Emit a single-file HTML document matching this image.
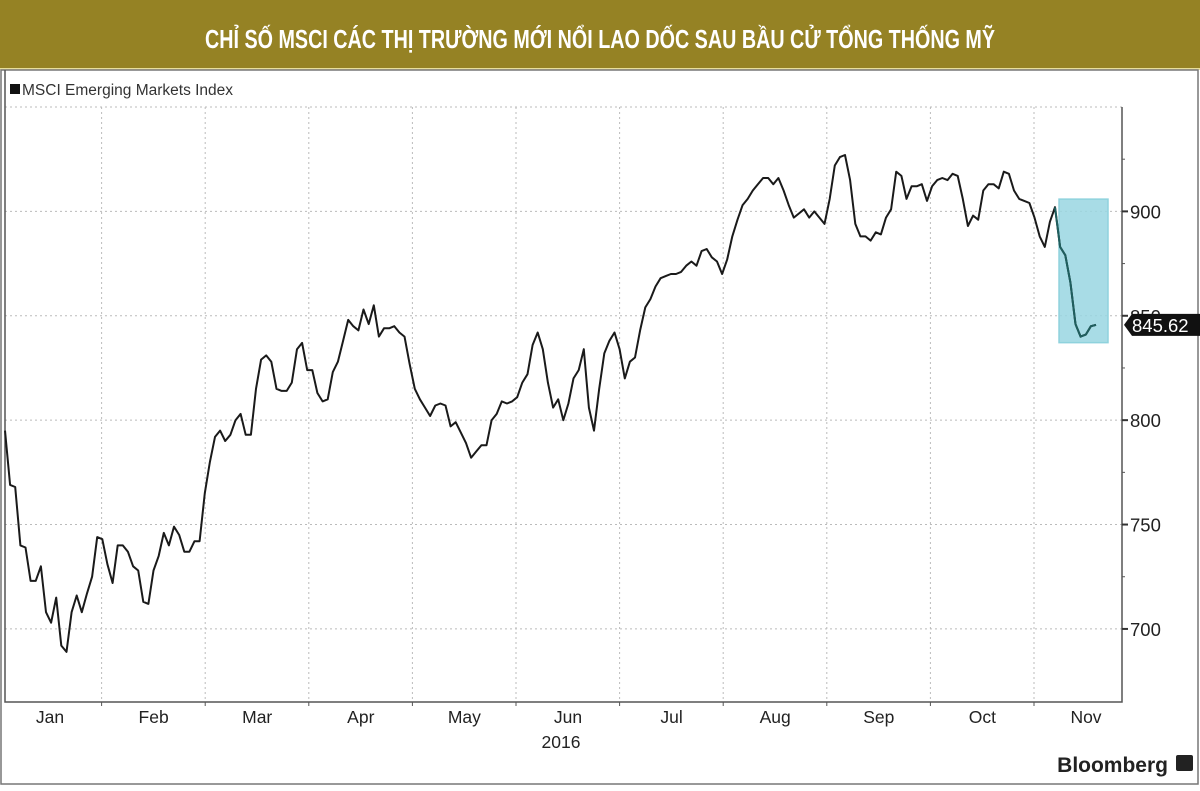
<!DOCTYPE html>
<html><head><meta charset="utf-8"><style>
html,body{margin:0;padding:0;background:#fff}
body{width:1200px;height:786px;overflow:hidden;font-family:"Liberation Sans",sans-serif}
</style></head><body>
<svg id="chart" width="1200" height="786" xmlns="http://www.w3.org/2000/svg">
<rect x="0" y="0" width="1200" height="68" fill="#958224"/>
<rect x="0" y="68" width="1200" height="2" fill="#e8df9c"/>
<text x="205" y="48" textLength="790" lengthAdjust="spacingAndGlyphs" fill="#fff" font-size="26" font-weight="bold" font-family="'Liberation Sans Narrow','Liberation Sans',sans-serif">CHỈ SỐ MSCI CÁC THỊ TRƯỜNG MỚI NỔI LAO DỐC SAU BẦU CỬ TỔNG THỐNG MỸ</text>
<rect x="1" y="70" width="1197" height="714" fill="none" stroke="#777" stroke-width="1.5"/>
<rect x="10" y="84" width="10" height="10" fill="#111"/>
<text x="22" y="95" font-size="15.5" fill="#333">MSCI Emerging Markets Index</text>
<g id="grid"></g>
<g id="axes"></g>
<g id="marks"></g>
<text x="1168" y="772" text-anchor="end" font-size="21" font-weight="bold" fill="#222">Bloomberg</text>
<rect x="1176" y="755" width="17" height="16" rx="2" fill="#222"/>
</svg>
<script>
const months=["Jan","Feb","Mar","Apr","May","Jun","Jul","Aug","Sep","Oct","Nov"];
const yTicks=[700,750,800,850,900];
const yearLabel="2016";
const lastLabel="845.62";
const values=[795,769,768,740,739,723,723,730,708,703,715,692,689,708,716,708,717,725,744,743,731,722,740,740,737,730,728,713,712,728,735,746,740,749,745,737,737,742,742,765,780,792,795,790,793,800,803,793,793,815,829,831,828,815,814,814,818,834,837,824,824,813,809,810,823,828,838,848,845,843,853,846,855,840,844,844,845,842,840,827,815,810,806,802,807,808,807,797,799,794,789,782,785,788,788,800,803,809,808,809,811,818,822,836,842,834,818,806,810,800,808,820,824,834,806,795,815,832,838,842,834,820,828,830,843,854,858,864,868,869,870,870,871,874,876,874,881,882,878,876,870,877,888,896,903,906,910,913,916,916,913,916,910,903,897,899,901,897,900,897,894,906,922,926,927,915,894,888,888,886,890,889,897,901,919,917,906,912,912,913,905,912,915,916,915,918,917,906,893,898,896,910,913,913,911,919,918,910,906,905,904,897,888,883,895,902,883,879,866,846,840,841,845,845.62];
const highlightStart=values.length-9;
const NS="http://www.w3.org/2000/svg";
const L=5,R=1122,T=107,B=702,X1=1096;
const vMin=665,vMax=950;
const y=v=>B-(v-vMin)/(vMax-vMin)*(B-T);
const x=i=>L+i*(X1-L)/(values.length-1);
const mx=i=>50+i*103.6;
function mk(tag,attrs,parent){const e=document.createElementNS(NS,tag);for(const k in attrs)e.setAttribute(k,attrs[k]);document.getElementById(parent).appendChild(e);return e;}
[...yTicks,950].forEach(v=>{
 const g=mk('line',{x1:L,x2:R,y1:y(v),y2:y(v),stroke:'#bbb','stroke-dasharray':'2,3'},'grid');
 
 
});
months.forEach((m,i)=>{
 if(i>0){const g=mk('line',{x1:mx(i)-52,x2:mx(i)-52,y1:T,y2:B,stroke:'#bbb','stroke-dasharray':'2,3'},'grid');
 
 
 const tk=mk('line',{x1:mx(i)-52,x2:mx(i)-52,y1:B,y2:B+4,stroke:'#555'},'axes');
 
 }
 const t=mk('text',{x:mx(i),y:723,'text-anchor':'middle','font-size':17.5,fill:'#222'},'axes');
 t.textContent=m;
 
 
});
const yr=mk('text',{x:561,y:748,'text-anchor':'middle','font-size':17.5,fill:'#222'},'axes');
yr.textContent=yearLabel;


const ax=mk('path',{d:`M${L} 70 L${L} ${B} L${R} ${B} L${R} ${T}`,fill:'none',stroke:'#555','stroke-width':1.5},'axes');


yTicks.forEach(v=>{
 const tk=mk('line',{x1:R,x2:R+6,y1:y(v),y2:y(v),stroke:'#333','stroke-width':2},'axes');
 
 
 const mt=mk('line',{x1:R,x2:R+3,y1:y(v+25),y2:y(v+25),stroke:'#555'},'axes');
 
 
 const t=mk('text',{x:R+8,y:y(v)+7,'font-size':18.5,fill:'#222'},'axes');
 t.textContent=v;
 
 
});
const hb=mk('rect',{x:x(highlightStart)+4,y:y(903)-6,width:R-14-x(highlightStart)-4,height:y(840)-y(903)+12,fill:'#9ad7e2',stroke:'#7ccbd8','stroke-width':1.5,opacity:0.85},'marks');


let d='';values.forEach((v,i)=>{d+=(i?'L':'M')+x(i).toFixed(1)+' '+y(v).toFixed(1);});
const ln=mk('path',{d:d,fill:'none',stroke:'#1a1a1a','stroke-width':2,'stroke-linejoin':'round'},'marks');


let d2='';values.slice(highlightStart).forEach((v,i)=>{d2+=(i?'L':'M')+x(i+highlightStart).toFixed(1)+' '+y(v).toFixed(1);});
const ln2=mk('path',{d:d2,fill:'none',stroke:'#1f5f5f','stroke-width':2},'marks');


const ly=y(values[values.length-1]);
const lb=mk('path',{d:`M${R+2} ${ly} L${R+10} ${ly-11} L1200 ${ly-11} L1200 ${ly+11} L${R+10} ${ly+11} Z`,fill:'#111'},'marks');


const lt=mk('text',{x:R+10,y:ly+7,'font-size':18.5,fill:'#fff'},'marks');
lt.textContent=lastLabel;


</script>
</body></html>
